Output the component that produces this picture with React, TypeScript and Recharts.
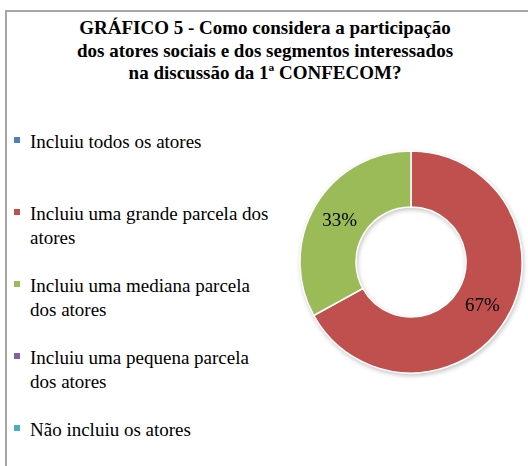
import { PieChart, Pie, Cell } from "recharts"

const categories = [
  "Incluiu todos os atores",
  "Incluiu uma grande parcela dos atores",
  "Incluiu uma mediana parcela dos atores",
  "Incluiu uma pequena parcela dos atores",
  "Não incluiu os atores",
]
const values = [0, 67, 33, 0, 0]
const colors = ["#4F81BD", "#C0504D", "#9BBB59", "#8064A2", "#4BACC6"]
const titleLines = [
  "GRÁFICO 5 - Como considera a participação",
  "dos atores sociais e dos segmentos interessados",
  "na discussão da 1ª CONFECOM?",
]

const data = categories.map((name, i) => ({ name, value: values[i] }))

const RADIAN = Math.PI / 180
const font = "Liberation Serif"

function renderLabel(props: any) {
  const { cx, cy, midAngle, innerRadius, outerRadius, value } = props
  if (!value) return null
  const r = (innerRadius + outerRadius) / 2
  const x = cx + r * Math.cos(-midAngle * RADIAN)
  const y = cy + r * Math.sin(-midAngle * RADIAN)
  return (
    <text x={x} y={y} textAnchor="middle" dominantBaseline="central" fill="#000" fontSize={19} fontFamily={font}>
      {value}%
    </text>
  )
}

export default function App() {
  return (
    <div style={{ position: "absolute", left: 0, top: 0, width: 528, height: 466, background: "#fff", overflow: "hidden", fontFamily: font }}>
      {/* frame */}
      <div style={{ position: "absolute", left: 5, top: 10, right: -10, bottom: -10, borderTop: "2px solid #a6a6a6", borderLeft: "2px solid #a6a6a6" }} />

      <div style={{ position: "absolute", left: 0, top: 17, width: 530, textAlign: "center", fontWeight: "bold", fontSize: 19, lineHeight: "22.5px", color: "#000", fontFamily: font }}>
        {titleLines.map((t) => (
          <div key={t}>{t}</div>
        ))}
      </div>

      <div style={{ position: "absolute", left: 14, top: 130, width: 262, fontSize: 19, lineHeight: "24px", color: "#000", fontFamily: font }}>
        {categories.map((c, i) => (
          <div key={c} style={{ position: "relative", height: 72, paddingLeft: 16 }}>
            <span style={{ position: "absolute", left: 0, top: 7, width: 6, height: 6, background: colors[i] }} />
            {c}
          </div>
        ))}
      </div>

      <div style={{ position: "absolute", left: 0, top: 0, filter: "drop-shadow(1px 2px 2px rgba(0,0,0,0.22))" }}>
        <PieChart width={528} height={466} margin={{ top: 0, right: 0, bottom: 0, left: 0 }}>
          <Pie
            data={data}
            dataKey="value"
            cx={411}
            cy={262}
            innerRadius={55}
            outerRadius={111}
            startAngle={90}
            endAngle={-270}
            stroke="#fff"
            strokeWidth={1.5}
            label={renderLabel}
            labelLine={false}
            isAnimationActive={false}
          >
            {data.map((d, i) => (
              <Cell key={d.name} fill={colors[i]} />
            ))}
          </Pie>
        </PieChart>
      </div>
    </div>
  )
}
